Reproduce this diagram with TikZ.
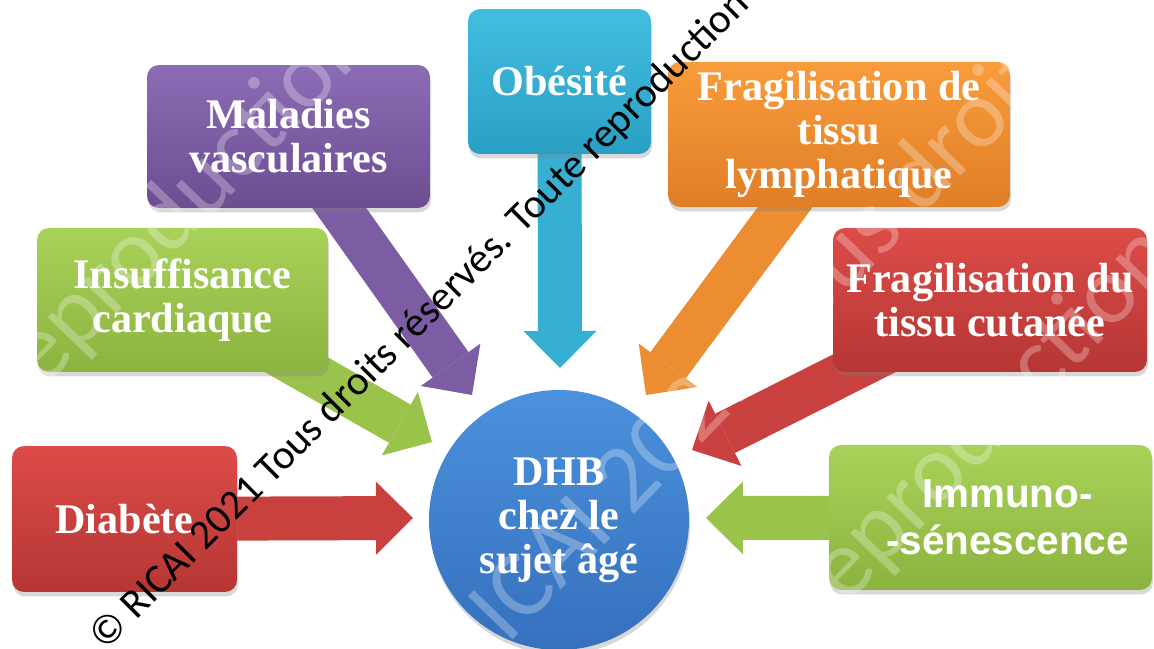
\documentclass[tikz,border=0pt]{standalone}
\usepackage{fontspec}
\setmainfont{Liberation Serif}
\setsansfont{Liberation Sans}
\newfontfamily\markfont{Carlito}
\usetikzlibrary{arrows.meta,shadows,backgrounds}

\definecolor{violetT}{HTML}{8C6DB5}
\definecolor{violetB}{HTML}{6C4D92}
\definecolor{vertT}{HTML}{A9D25A}
\definecolor{vertB}{HTML}{8BB33F}
\definecolor{rougeT}{HTML}{DC4C48}
\definecolor{rougeB}{HTML}{B53634}
\definecolor{cyanT}{HTML}{42BEE0}
\definecolor{cyanB}{HTML}{2A9FC4}
\definecolor{orangeT}{HTML}{F99C3C}
\definecolor{orangeB}{HTML}{E07E27}
\definecolor{bleuT}{HTML}{4B91DB}
\definecolor{bleuB}{HTML}{3570BD}

\tikzset{
  cadre/.style={rectangle, rounded corners=0.24cm, text=white, align=center,
    font=\bfseries\fontsize{24}{25}\selectfont, inner sep=2pt,
    drop shadow={opacity=0.3, shadow xshift=0.6pt, shadow yshift=-2.5pt}},
  centre/.style={circle, text=white, align=center, minimum size=5.2cm,
    font=\bfseries\fontsize{24}{25}\selectfont, inner sep=0pt,
    drop shadow={opacity=0.3, shadow xshift=0.6pt, shadow yshift=-2.5pt}},
  fleche/.style={line width=0.88cm, draw=#1,
    -{Triangle[length=0.74cm, width=1.46cm, line width=0pt]}},
  filigrane/.style={font=\markfont\fontsize{55}{55}\selectfont, text=white,
    opacity=0.28, rotate=46, inner sep=0pt},
}

\begin{document}
\begin{tikzpicture}[x=0.02cm, y=-0.02cm]
  \useasboundingbox (0,0) rectangle (1154,649);

  % boites
  \node[cadre, top color=violetT, bottom color=violetB, minimum width=5.66cm, minimum height=2.86cm] (mal) at (288.5,136.5) {Maladies\\vasculaires};
  \node[cadre, top color=vertT, bottom color=vertB, minimum width=5.82cm, minimum height=2.88cm] (ins) at (182.5,300) {Insuffisance\\cardiaque};
  \node[cadre, top color=rougeT, bottom color=rougeB, minimum width=4.5cm, minimum height=2.92cm] (dia) at (124.5,519) {Diabète};
  \node[cadre, top color=cyanT, bottom color=cyanB, minimum width=3.66cm, minimum height=2.9cm] (obe) at (559.5,81.5) {Obésité};
  \node[cadre, top color=orangeT, bottom color=orangeB, minimum width=6.84cm, minimum height=2.9cm] (lym) at (839,134.5) {Fragilisation de\\tissu\\lymphatique};
  \node[cadre, top color=rougeT, bottom color=rougeB, minimum width=6.28cm, minimum height=2.88cm] (cut) at (990,300) {Fragilisation du\\tissu cutanée};
  \node[cadre, top color=vertT, bottom color=vertB, minimum width=6.46cm, minimum height=2.9cm,
    font=\sffamily\bfseries\fontsize{23}{27}\selectfont] (imm) at (990.5,517.5) {\hspace*{0.68cm}Immuno-\\\hspace*{0.68cm}-sénescence};
  \node[centre, top color=bleuT, bottom color=bleuB] (dhb) at (559,520) {DHB\\chez le\\sujet âgé};

  % pointes des fleches
  \coordinate (tDia) at (413,518);
  \coordinate (tIns) at (432,442);
  \coordinate (tMal) at (472,395);
  \coordinate (tObe) at (560,368);
  \coordinate (tLym) at (646,395);
  \coordinate (tCut) at (692,450);
  \coordinate (tImm) at (706,518);

  \begin{scope}[on background layer]
    \fill[white] (0,0) rectangle (1154,649);
    \draw[fleche=rougeT!50!rougeB] (dia.center) -- (tDia);
    \draw[fleche=vertT!50!vertB] (ins.center) -- (tIns);
    \draw[fleche=violetT!50!violetB] (mal.center) -- (tMal);
    \draw[fleche=cyanT!50!cyanB] (obe.center) -- (tObe);
    \draw[fleche=orangeT!50!orangeB] (lym.center) -- (tLym);
    \draw[fleche=rougeT!50!rougeB] (cut.center) -- (tCut);
    \draw[fleche=vertT!50!vertB] (imm.center) -- (tImm);
  \end{scope}

  % filigranes
  \begin{scope}
    \clip (0,0) rectangle (1154,649);
    \node[filigrane, anchor=base east] (fil1) at (377,44) {© RICAI 2021 Tous droits réservés. Toute reproduction};
    \node[filigrane, anchor=base west] (fil2) at (400,757) {© RICAI 2021 Tous droits réservés. Toute reproduction};
    \node[filigrane, anchor=base east] (fil3) at (1180,260) {© RICAI 2021 Tous droits réservés. Toute reproduction};
    \node[font=\markfont\fontsize{23.5}{23.5}\selectfont, rotate=45, anchor=base west, inner sep=0pt] (copie) at (105,652) {© RICAI 2021 Tous droits réservés. Toute reproduction};
  \end{scope}
\end{tikzpicture}
\end{document}
